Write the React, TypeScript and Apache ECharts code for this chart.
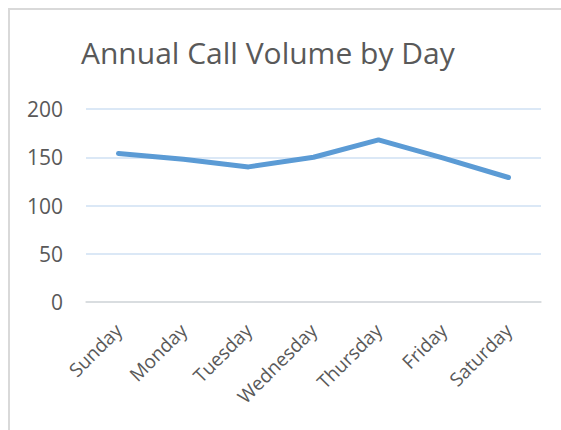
import React, { useEffect, useRef } from "react";
import * as echarts from "echarts";

const days = ["Sunday", "Monday", "Tuesday", "Wednesday", "Thursday", "Friday", "Saturday"];
const callVolume = [154, 148, 140, 150, 168, 149, 129];
const yMin = 0;
const yMax = 200;
const yStep = 50;

export default function App() {
  const ref = useRef<HTMLDivElement>(null);
  useEffect(() => {
    document.documentElement.style.overflow = "hidden";
    document.body.style.overflow = "hidden";
    if (!ref.current) return;
    const chart = echarts.init(ref.current, null, { renderer: "svg" });
    chart.setOption({
      animation: false,
      backgroundColor: "#ffffff",
      title: {
        text: "Annual Call Volume by Day",
        left: 66,
        top: 22,
        textStyle: {
          fontFamily: "Open Sans",
          fontSize: 30,
          fontWeight: "normal",
          color: "#595959",
        },
      },
      grid: { left: 76, top: 99, width: 455, height: 193 },
      xAxis: {
        type: "category",
        data: days,
        boundaryGap: true,
        axisLine: { lineStyle: { color: "#d9d9d9", width: 1.5 } },
        axisTick: { show: false },
        axisLabel: {
          rotate: 45,
          margin: 25,
          fontFamily: "Open Sans",
          fontSize: 19,
          color: "#595959",
        },
      },
      yAxis: {
        type: "value",
        min: yMin,
        max: yMax,
        interval: yStep,
        axisLine: { show: false },
        axisTick: { show: false },
        splitLine: { lineStyle: { color: "#cfe1f3", width: 1.5 } },
        axisLabel: {
          margin: 23,
          fontFamily: "Open Sans",
          fontSize: 21,
          color: "#595959",
        },
      },
      series: [
        {
          type: "line",
          data: callVolume,
          symbol: "none",
          lineStyle: { color: "#5b9bd5", width: 5, cap: "round", join: "round" },
        },
      ],
    });
    return () => chart.dispose();
  }, []);
  return (
    <div style={{ position: "fixed", left: 0, top: 0, width: 561, height: 430, background: "#fff", overflow: "hidden" }}>
      <div style={{ position: "absolute", left: 8, top: 8, width: 553, height: 1.5, background: "#d9d9d9" }} />
      <div style={{ position: "absolute", left: 8, top: 8, width: 1.5, height: 422, background: "#d9d9d9" }} />
      <div ref={ref} style={{ position: "absolute", left: 9.5, top: 9.5, width: 551, height: 420 }} />
    </div>
  );
}
